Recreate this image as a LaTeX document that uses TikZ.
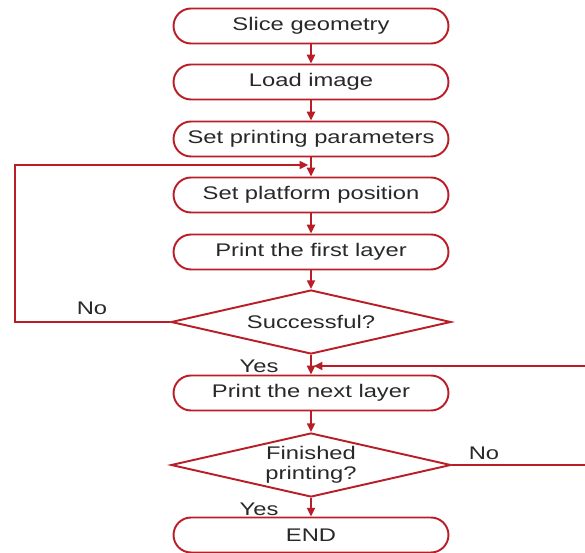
\documentclass[tikz,border=0pt]{standalone}
\usepackage{fontspec}
\setmainfont{Liberation Sans}[FakeStretch=1.3]
\usetikzlibrary{shapes.geometric,arrows.meta}
\definecolor{flowred}{RGB}{185,30,40}
\definecolor{flowtext}{RGB}{40,40,40}
\begin{document}
\begin{tikzpicture}[x=0.02cm,y=-0.02cm]
    % Node styles
    \tikzset{
      stepbox/.style={rectangle,rounded corners=3.5mm,draw=flowred,line width=1.1pt,
        minimum width=5.5cm,minimum height=0.7cm,inner sep=0pt,text=flowtext,
        font=\fontsize{10.4}{11.5}\selectfont},
      testbox/.style={diamond,aspect=4.4,draw=flowred,line width=1.1pt,minimum width=5.6cm,
        minimum height=1.28cm,inner sep=0pt,text=flowtext,align=center,
        font=\fontsize{10.4}{11.5}\selectfont},
      flow/.style={draw=flowred,line width=1.1pt,-{Triangle[length=5pt,width=4.5pt]}},
      answer/.style={text=flowtext,font=\fontsize{10.4}{11.5}\selectfont}
    }
    \useasboundingbox (0,0) rectangle (585,553);
    \clip (0,0) rectangle (585,553);

    % --- Steps down the middle ---
    \node[stepbox] (slice) at (311, 26) {Slice geometry};
    \node[stepbox] (load) at (311, 82) {Load image};
    \node[stepbox] (param) at (311, 139) {Set printing parameters};
    \node[stepbox] (platform) at (311, 195) {Set platform position};
    \node[stepbox] (first) at (311, 252) {Print the first layer};
    \node[testbox] (success) at (311, 322) {Successful?};
    \node[stepbox] (next) at (311, 393) {Print the next layer};
    \node[testbox] (finished) at (311, 465) {Finished\\printing?};
    \node[stepbox] (end) at (311, 535) {END};

    % --- Join points of the loops ---
    \coordinate (rejoin) at (311, 165);
    \coordinate (again) at (311, 366);

    % --- Straight arrows ---
    \draw[flow] (slice) -- (load);
    \draw[flow] (load) -- (param);
    \draw[flow] (param) -- (platform);
    \draw[flow] (platform) -- (first);
    \draw[flow] (first) -- (success);
    \draw[flow] (success) -- (next);
    \draw[flow] (next) -- (finished);
    \draw[flow] (finished) -- (end);

    % --- Loop back on failure ---
    \draw[flow] (success.west) -- (15, 322) |- ([xshift=-1.5pt]rejoin);

    % --- Loop for each further layer ---
    \draw[flow] (finished.east) -- (592, 465) |- ([xshift=1.5pt]again);

    % --- Branch labels ---
    \node[answer] (no1) at (92, 308) {No};
    \node[answer] (yes1) at (259, 366) {Yes};
    \node[answer] (no2) at (484, 453) {No};
    \node[answer] (yes2) at (259, 509) {Yes};

  \end{tikzpicture}
\end{document}
